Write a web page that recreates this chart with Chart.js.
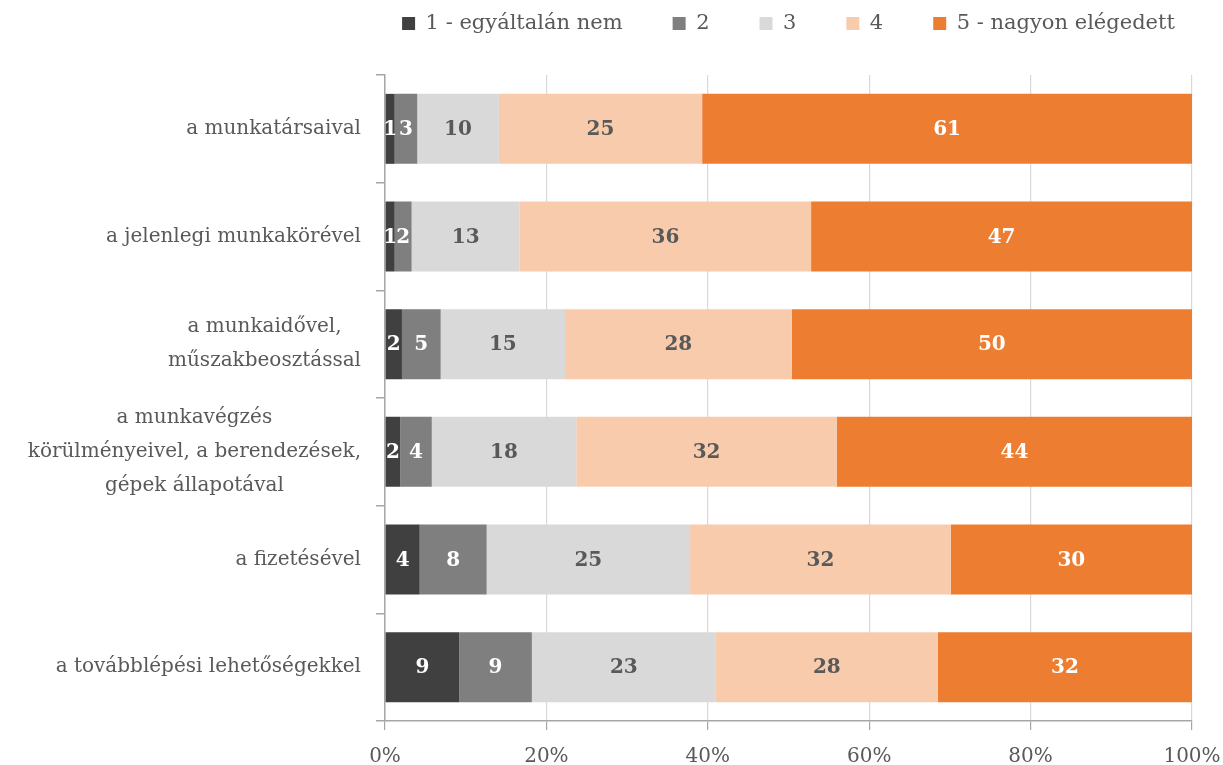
<!DOCTYPE html>
<html>
<head>
<meta charset="utf-8">
<script src="https://cdn.jsdelivr.net/npm/chart.js@4.4.1/dist/chart.umd.min.js"></script>
<style>
  body { margin: 0; background: #fff; }
  #wrap { width: 1223px; height: 765px; }
</style>
</head>
<body>
<div id="wrap"><canvas id="grafico"></canvas></div>
<script>
// Kategóriák (y tengely)
const kategoriak = [
    "a munkatársaival",
    "a jelenlegi munkakörével",
    ["a munkaidővel,", "műszakbeosztással"],
    ["a munkavégzés", "körülményeivel, a berendezések,", "gépek állapotával"],
    "a fizetésével",
    "a továbblépési lehetőségekkel"
];

// Sorozatok nevei
const sorozatNevek = ["1 - egyáltalán nem", "2", "3", "4", "5 - nagyon elégedett"];

// Értékek (%), soronként 100
const ertek1 = [1.2, 1.2, 2.1, 1.9, 4.3, 9.2];
const ertek2 = [2.8, 2.1, 4.8, 3.9, 8.3, 9.0];
const ertek3 = [10.1, 13.4, 15.4, 17.9, 25.2, 22.8];
const ertek4 = [25.2, 36.1, 28.1, 32.3, 32.3, 27.5];
const ertek5 = [60.7, 47.2, 49.6, 44.0, 29.9, 31.5];

// x tengely feliratai
const xTickek = [0, 20, 40, 60, 80, 100];

const szinek = ["#404040", "#7f7f7f", "#d9d9d9", "#f8cbad", "#ed7d31"];
const cimkeSzinek = ["#ffffff", "#ffffff", "#595959", "#595959", "#ffffff"];
const betu = "'DejaVu Serif', serif";
const szurke = "#595959";

Chart.defaults.font.family = betu;
Chart.defaults.color = szurke;

// értékek a szakaszok közepén
const ertekCimkek = {
    id: "ertekCimkek",
    afterDatasetsDraw(chart) {
        const ctx = chart.ctx;
        ctx.save();
        ctx.font = "bold 20px " + betu;
        ctx.textAlign = "center";
        ctx.textBaseline = "middle";
        chart.data.datasets.forEach((ds, i) => {
            const meta = chart.getDatasetMeta(i);
            meta.data.forEach((el, j) => {
                const p = el.getProps(["x", "y", "base"], true);
                ctx.fillStyle = cimkeSzinek[i];
                ctx.fillText(Math.round(ds.data[j]), (p.x + p.base) / 2, p.y + 1);
            });
        });
        ctx.restore();
    }
};

// kategória feliratok (Excel-szerű igazítás)
const yCimkek = {
    id: "yCimkek",
    afterDraw(chart) {
        const ctx = chart.ctx;
        const sc = chart.scales.y;
        ctx.save();
        ctx.font = "20px " + betu;
        ctx.fillStyle = szurke;
        ctx.textAlign = "center";
        ctx.textBaseline = "middle";
        const sor = 34;
        kategoriak.forEach((k, i) => {
            const sorok = Array.isArray(k) ? k : [k];
            const w = Math.max(...sorok.map(s => ctx.measureText(s).width));
            const cx = 361 - w / 2;
            const y0 = sc.getPixelForValue(i) - (sorok.length - 1) * sor / 2;
            sorok.forEach((s, n) => ctx.fillText(s, cx, y0 + n * sor));
        });
        ctx.restore();
    }
};

// jelmagyarázat: magasság és vízszintes hely
const jelmagyarazatHelye = {
    id: "jelmagyarazatHelye",
    afterInit(chart) {
        const eredeti = chart.legend.fit;
        chart.legend.fit = function () {
            eredeti.call(this);
            this.height = 112;
        };
    },
    afterLayout(chart) {
        const lg = chart.legend;
        const d = (chart.chartArea.left + chart.chartArea.right) / 2 - (lg.left + lg.right) / 2;
        lg.left += d;
        lg.right += d;
    }
};

new Chart(document.getElementById("grafico"), {
    type: "bar",
    data: {
        labels: kategoriak,
        datasets: [ertek1, ertek2, ertek3, ertek4, ertek5].map((d, i) => ({
            label: sorozatNevek[i],
            data: d,
            backgroundColor: szinek[i],
            borderWidth: 0,
            barPercentage: 0.65,
            categoryPercentage: 1
        }))
    },
    options: {
        indexAxis: "y",
        responsive: true,
        maintainAspectRatio: false,
        animation: false,
        layout: { padding: { top: -37, right: 31, left: 0, bottom: -19 } },
        plugins: {
            tooltip: { enabled: false },
            legend: {
                position: "top",
                labels: {
                    boxWidth: 13,
                    boxHeight: 13,
                    padding: 50,
                    color: szurke,
                    font: { size: 21 }
                }
            }
        },
        scales: {
            x: {
                stacked: true,
                min: 0,
                max: 100,
                afterBuildTicks(scale) {
                    scale.ticks = xTickek.map(v => ({ value: v }));
                },
                afterFit(scale) {
                    scale.paddingLeft = 0;
                    scale.paddingRight = 0;
                },
                ticks: {
                    callback: v => v + "%",
                    color: szurke,
                    font: { size: 20 },
                    padding: 15,
                    maxRotation: 0
                },
                grid: {
                    color: "#d9d9d9",
                    tickColor: "#a6a6a6",
                    tickLength: 9,
                    lineWidth: 1.2
                },
                border: { color: "#a6a6a6", width: 1.5 }
            },
            y: {
                stacked: true,
                afterFit(scale) { scale.width = 385; },
                ticks: { display: false },
                grid: {
                    offset: true,
                    drawOnChartArea: false,
                    tickColor: "#a6a6a6",
                    tickLength: 9,
                    lineWidth: 1.5
                },
                border: { color: "#a6a6a6", width: 1.5 }
            }
        }
    },
    plugins: [ertekCimkek, yCimkek, jelmagyarazatHelye]
});
</script>
</body>
</html>
